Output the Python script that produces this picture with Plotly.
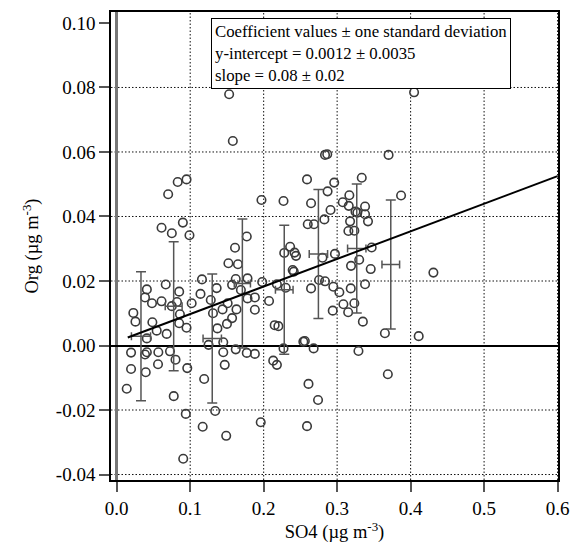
import plotly.graph_objects as go

# ---- data ----
so4 = [0.0136, 0.0195, 0.0195, 0.0226, 0.0255, 0.0385, 0.041, 0.0395, 0.041, 0.041,
       0.0385, 0.048, 0.0485, 0.0544, 0.0566, 0.0562, 0.061, 0.061, 0.0667, 0.068,
       0.070, 0.0725, 0.075, 0.075, 0.0776, 0.080, 0.082, 0.083, 0.085, 0.085,
       0.086, 0.090, 0.0905, 0.094, 0.095, 0.095, 0.096, 0.099,
       0.102, 0.114, 0.116, 0.117, 0.119, 0.125, 0.128, 0.131, 0.134, 0.136,
       0.137, 0.144, 0.145, 0.145, 0.147, 0.149, 0.150, 0.151, 0.153, 0.157,
       0.157, 0.158, 0.152, 0.161, 0.162, 0.163, 0.162, 0.165, 0.169, 0.177,
       0.177, 0.178, 0.178, 0.188, 0.188, 0.188, 0.196, 0.197, 0.198,
       0.2073, 0.213, 0.218, 0.215, 0.220, 0.218, 0.227, 0.227, 0.228, 0.230,
       0.236, 0.2395, 0.241, 0.242, 0.244, 0.254, 0.256, 0.259, 0.259, 0.261,
       0.2645, 0.2645, 0.260, 0.2685, 0.268, 0.274, 0.2754, 0.280, 0.2826, 0.2835,
       0.2865, 0.2835, 0.287, 0.291, 0.294, 0.2948, 0.296, 0.297,
       0.303, 0.3076, 0.3085, 0.315, 0.3158, 0.3153, 0.3166, 0.3176, 0.3185, 0.3189,
       0.3234, 0.3234, 0.325, 0.3275, 0.329, 0.330, 0.3335, 0.335, 0.338, 0.338,
       0.338, 0.342, 0.3457, 0.347, 0.365, 0.369, 0.370, 0.387, 0.4047, 0.411, 0.431]
org = [-0.0134, -0.0022, -0.0073, 0.0101, 0.0074, -0.0028, -0.0021, -0.0083, 0.0022, 0.0174,
       0.0149, 0.0131, 0.0072, 0.0046, -0.0021, -0.0058, 0.0137, 0.0365, 0.0189, 0.0036,
       0.0469, -0.0018, 0.0122, 0.0348, -0.0157, -0.0044, 0.0135, 0.0507, 0.0167, 0.0069,
       0.0097, 0.0381, -0.0351, -0.0212, 0.0515, 0.0055, -0.0070, 0.0342,
       0.0131, 0.0160, 0.0205, -0.0252, -0.0104, 0.0002, 0.0141, 0.0100, -0.0203, 0.0178,
       0.0053, 0.0112, 0.0010, -0.0021, -0.0060, -0.0280, 0.0067, 0.0131, 0.0779, 0.0188,
       0.0085, 0.0634, 0.0255, 0.0303, 0.0206, 0.0112, -0.0012, 0.0252, 0.0172, 0.0338,
       -0.0023, 0.0208, 0.0146, 0.0149, 0.0111, -0.0026, -0.0238, 0.0451, 0.0197,
       0.0138, -0.0047, -0.0060, 0.0063, 0.0060, 0.0190, 0.0448, -0.0009, 0.0287, 0.0179,
       0.0306, 0.0234, 0.0229, 0.0288, 0.0278, 0.0012, 0.0014, 0.0515, -0.0250, -0.0119,
       0.0441, 0.0177, 0.0376, 0.0376, -0.0009, -0.0169, 0.0203, 0.0272, 0.0391, 0.0591,
       0.0593, 0.0199, 0.0478, 0.0420, 0.0108, 0.0182, 0.0505, 0.0284,
       0.0165, 0.0444, 0.0128, 0.0103, 0.0433, 0.0355, 0.0466, 0.0385, 0.0177, 0.0247,
       0.0356, 0.0131, 0.0415, 0.0412, -0.0017, 0.0266, 0.0520, 0.0074, 0.0431, 0.0407,
       0.0190, 0.0385, 0.0237, 0.0304, 0.0038, -0.0089, 0.0591, 0.0465, 0.0785, 0.0029, 0.0226]

# binned means with one-standard-deviation error bars
bin_x = [0.033, 0.0775, 0.130, 0.171, 0.228, 0.2745, 0.3267, 0.373]
bin_y = [0.0029, 0.0122, 0.0022, 0.0192, 0.0173, 0.0284, 0.0301, 0.0251]
bin_xerr = [0.013, 0.0115, 0.0125, 0.011, 0.012, 0.0125, 0.0125, 0.012]
bin_yerr = [0.020, 0.020, 0.020, 0.020, 0.020, 0.020, 0.020, 0.020]

# fitted line
intercept = 0.0012
slope = 0.0855
fit_x = [0.015, 0.6]
fit_y = [intercept + slope * v for v in fit_x]

x_ticks = [0.0, 0.1, 0.2, 0.3, 0.4, 0.5, 0.6]
y_ticks = [-0.04, -0.02, 0.00, 0.02, 0.04, 0.06, 0.08, 0.10]
x_grid = [0.1, 0.2, 0.3, 0.4, 0.5, 0.6]
y_grid = [-0.04, -0.02, 0.02, 0.04, 0.06, 0.08]

note_lines = ["Coefficient values \u00b1 one standard deviation",
              "y-intercept = 0.0012 \u00b1 0.0035",
              "slope = 0.08 \u00b1 0.02"]

FONT = "Liberation Serif, Times New Roman, serif"

fig = go.Figure()
fig.add_trace(go.Scatter(
    x=so4, y=org, mode="markers",
    marker=dict(symbol="circle-open", size=8.5, color="#3a3a3a", line=dict(width=1.6, color="#3a3a3a")),
    showlegend=False))
fig.add_trace(go.Scatter(
    x=bin_x, y=bin_y, mode="markers",
    marker=dict(size=1, color="rgba(0,0,0,0)"),
    error_x=dict(type="data", array=bin_xerr, color="#555555", thickness=1.5, width=4),
    error_y=dict(type="data", array=bin_yerr, color="#555555", thickness=1.5, width=5),
    showlegend=False))
fig.add_trace(go.Scatter(
    x=fit_x, y=fit_y, mode="lines",
    line=dict(color="black", width=2), showlegend=False))

shapes = []
for gx in x_grid:
    shapes.append(dict(type="line", xref="x", yref="paper", x0=gx, x1=gx, y0=0, y1=1,
                       line=dict(color="#111111", width=1, dash="1.5px,2px"), layer="below"))
for gy in y_grid:
    shapes.append(dict(type="line", xref="paper", yref="y", x0=0, x1=1, y0=gy, y1=gy,
                       line=dict(color="#111111", width=1, dash="1.5px,2px"), layer="below"))

fig.update_layout(
    width=572, height=547,
    margin=dict(l=111, r=14, t=12, b=67, autoexpand=False),
    paper_bgcolor="white", plot_bgcolor="white",
    font=dict(family=FONT, size=19, color="black"),
    shapes=shapes,
    annotations=[dict(
        x=0.1284, y=0.1016, xref="x", yref="y", xanchor="left", yanchor="top",
        text="<br>".join(note_lines), align="left", showarrow=False,
        font=dict(family=FONT, size=16.8, color="black"),
        bgcolor="white", bordercolor="black", borderwidth=1, borderpad=3)],
)
fig.update_xaxes(
    range=[-0.0078, 0.6006], tickvals=x_ticks, ticktext=[f"{v:.1f}" for v in x_ticks],
    showgrid=False, zeroline=True, zerolinecolor="#777777", zerolinewidth=2.5,
    showline=True, linecolor="black", linewidth=1.5, mirror=True, automargin=False,
    ticks="outside", ticklen=10, tickwidth=1.5, tickcolor="#555555",
    tickfont=dict(family=FONT, size=19),
    title=dict(text="SO4 (\u00b5g m<sup>-3</sup>)", font=dict(family=FONT, size=18.5), standoff=8))
fig.update_yaxes(
    range=[-0.0417, 0.1034], tickvals=y_ticks, ticktext=[f"{v:.2f}" for v in y_ticks],
    showgrid=False, zeroline=True, zerolinecolor="black", zerolinewidth=2,
    showline=True, linecolor="black", linewidth=1.5, mirror=True, automargin=False,
    ticks="outside", ticklen=10, tickwidth=1.5, tickcolor="#555555",
    tickfont=dict(family=FONT, size=19),
    title=dict(text="Org (\u00b5g m<sup>-3</sup>)", font=dict(family=FONT, size=18.5), standoff=12))

fig.write_html("out.html")
